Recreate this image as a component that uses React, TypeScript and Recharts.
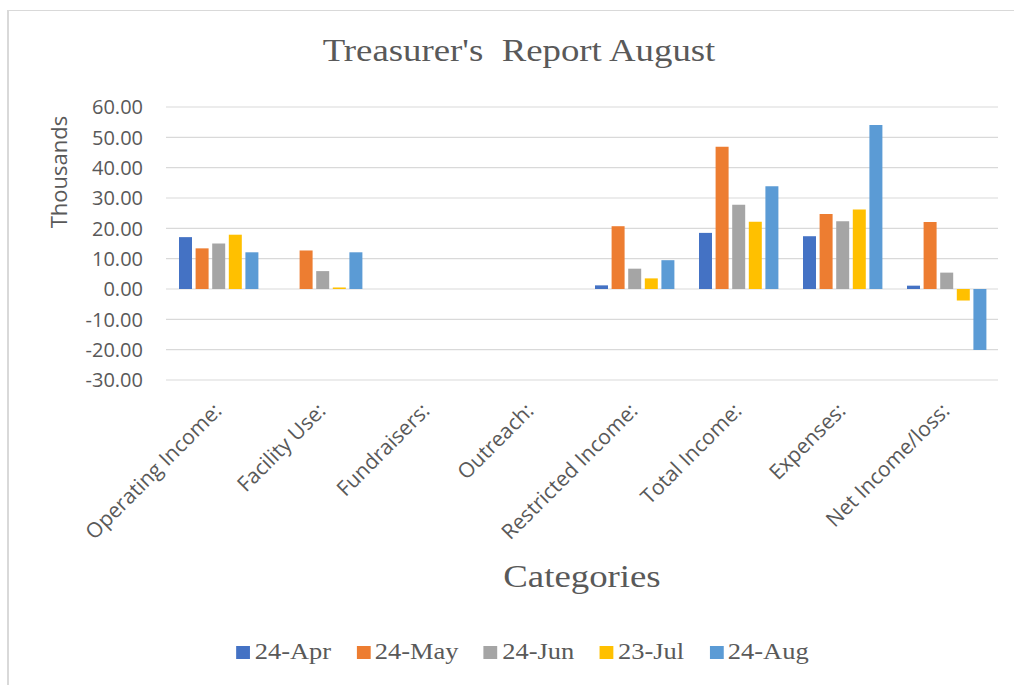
import React from "react";
import { BarChart, Bar, XAxis, YAxis, CartesianGrid, Legend } from "recharts";

const categories = [
  "Operating Income:",
  "Facility Use:",
  "Fundraisers:",
  "Outreach:",
  "Restricted Income:",
  "Total Income:",
  "Expenses:",
  "Net Income/loss:",
];

const seriesNames = ["24-Apr", "24-May", "24-Jun", "23-Jul", "24-Aug"];
const seriesColors = ["#4472C4", "#ED7D31", "#A5A5A5", "#FFC000", "#5B9BD5"];

const apr24 = [17.1, 0, 0, 0, 1.2, 18.5, 17.4, 1.1];
const may24 = [13.4, 12.7, 0, 0, 20.7, 46.9, 24.7, 22.1];
const jun24 = [15.0, 5.9, 0, 0, 6.7, 27.8, 22.3, 5.4];
const jul23 = [17.9, 0.5, 0, 0, 3.5, 22.2, 26.2, -3.8];
const aug24 = [12.1, 12.1, 0, 0, 9.5, 33.9, 54.1, -20.1];

const yTicks = [-30, -20, -10, 0, 10, 20, 30, 40, 50, 60];

const seriesValues = [apr24, may24, jun24, jul23, aug24];

const data = categories.map((c, i) => {
  const row: Record<string, any> = { category: c };
  seriesNames.forEach((s, k) => {
    row[s] = seriesValues[k][i];
  });
  return row;
});

const textGray = "#595959";

const XTick = (props: any) => {
  const { x, y, payload } = props;
  return (
    <g transform={`translate(${x + 5},${y + 32})`}>
      <text
        transform="rotate(-45)"
        textAnchor="end"
        fill={textGray}
        fontFamily="'Open Sans', sans-serif"
        fontSize={21}
      >
        {payload.value}
      </text>
    </g>
  );
};

const YTick = (props: any) => {
  const { x, y, payload } = props;
  return (
    <text
      x={x}
      y={y}
      dy="0.36em"
      textAnchor="end"
      fill={textGray}
      fontFamily="'Open Sans', sans-serif"
      fontSize={20}
    >
      {Number(payload.value).toFixed(2)}
    </text>
  );
};

const LegendContent = () => {
  return (
    <div style={{ width: 1014, height: 40, position: "relative" }}>
      <div
        style={{
          display: "flex",
          justifyContent: "center",
          alignItems: "center",
          height: 40,
          transform: "translateX(15.5px) scaleX(1.15)",
          fontFamily: "'Liberation Serif', serif",
          fontSize: 23,
          lineHeight: "40px",
          color: textGray,
        }}
      >
        {seriesNames.map((name, i) => (
          <div
            key={name}
            style={{
              display: "flex",
              alignItems: "baseline",
              marginLeft: i === 0 ? 0 : 22,
            }}
          >
            <span
              style={{
                display: "inline-block",
                width: 12,
                height: 13,
                background: seriesColors[i],
                marginRight: 4,
              }}
            />
            <span>{name}</span>
          </div>
        ))}
      </div>
    </div>
  );
};

export default function App() {
  return (
    <div
      style={{
        position: "absolute",
        left: 0,
        top: 0,
        width: 1014,
        height: 685,
        background: "#fff",
        overflow: "hidden",
      }}
    >
      <div
        style={{
          position: "absolute",
          left: 7,
          top: 10,
          width: 1100,
          height: 800,
          borderLeft: "2px solid #D9D9D9",
          borderTop: "1.5px solid #D9D9D9",
        }}
      />
      <div
        style={{
          position: "absolute",
          left: 519,
          top: 34,
          transform: "translateX(-50%) scaleX(1.15)",
          fontFamily: "'Liberation Serif', serif",
          fontSize: 32,
          lineHeight: "32px",
          color: textGray,
          whiteSpace: "pre",
        }}
      >
        {"Treasurer's  Report August"}
      </div>
      <div
        style={{
          position: "absolute",
          left: 58,
          top: 172,
          transform: "translate(-50%,-50%) rotate(-90deg)",
          fontFamily: "'Open Sans', sans-serif",
          fontSize: 22,
          lineHeight: "24px",
          color: textGray,
          whiteSpace: "nowrap",
        }}
      >
        Thousands
      </div>
      <div
        style={{
          position: "absolute",
          left: 582,
          top: 560,
          transform: "translateX(-50%) scaleX(1.15)",
          fontFamily: "'Liberation Serif', serif",
          fontSize: 32,
          lineHeight: "32px",
          color: textGray,
          whiteSpace: "nowrap",
        }}
      >
        Categories
      </div>
      <div style={{ position: "absolute", left: 0, top: 0 }}>
        <BarChart
          width={1014}
          height={685}
          data={data}
          margin={{ top: 107, right: 16, left: 0, bottom: 13 }}
          barCategoryGap={13}
          barGap={3.6}
        >
          <CartesianGrid
            vertical={false}
            stroke="#D9D9D9"
            strokeWidth={1.2}
          />
          <XAxis
            dataKey="category"
            interval={0}
            height={252}
            axisLine={false}
            tickLine={false}
            tickSize={0}
            tickMargin={0}
            tick={<XTick />}
          />
          <YAxis
            width={166}
            domain={[-30, 60]}
            ticks={yTicks}
            axisLine={false}
            tickLine={false}
            tickSize={0}
            tickMargin={23}
            tick={<YTick />}
          />
          <Legend
            verticalAlign="bottom"
            align="center"
            content={<LegendContent />}
            wrapperStyle={{ left: 0, width: 1014, bottom: 13, height: 40 }}
          />
          {seriesNames.map((s, k) => (
            <Bar
              key={s}
              dataKey={s}
              name={s}
              fill={seriesColors[k]}
              isAnimationActive={false}
            />
          ))}
        </BarChart>
      </div>
    </div>
  );
}
